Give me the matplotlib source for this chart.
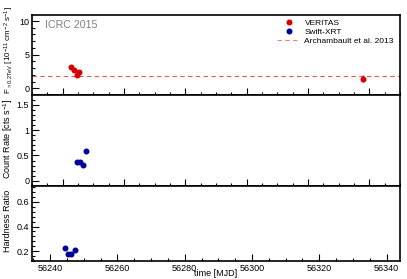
import numpy as np
import matplotlib
matplotlib.use("Agg")
import matplotlib.pyplot as plt
from matplotlib.ticker import MultipleLocator, FuncFormatter
from matplotlib.lines import Line2D

plt.rcParams['font.family'] = ['Liberation Sans', 'DejaVu Sans']
plt.rcParams['mathtext.default'] = 'regular'

# VERITAS flux (1e-11 cm^-2 s^-1)
ver_mjd = [56242.6, 56243.6, 56244.7, 56245.4, 56337.8]
ver_flux = [3.2, 2.7, 1.95, 2.35, 1.45]
ver_err = [0.15, 0.15, 0.15, 0.15, 0.5]
arch_flux = 1.9   # Archambault et al. 2013

# Swift-XRT count rate
xrt_mjd = [56244.6, 56245.65, 56246.7, 56247.6]
xrt_rate = [0.37, 0.37, 0.31, 0.59]

# Swift-XRT hardness ratio
hr_mjd = [56244.4, 56245.4, 56246.3, 56247.4]
hr_val = [0.225, 0.173, 0.173, 0.21]

red = '#d40000'
blue = '#00009a'
ms = 3.3

fig = plt.figure(figsize=(4.07, 2.79), dpi=100)
L, W = 32/407, 368/407
ax1 = fig.add_axes([L, 1-95/279, W, 80/279])
ax2 = fig.add_axes([L, 1-186/279, W, 91/279])
ax3 = fig.add_axes([L, 1-261/279, W, 75/279])

fmt = FuncFormatter(lambda v, p: '%g' % v)
for ax in (ax1, ax2, ax3):
    ax.tick_params(which='both', direction='in', top=False, right=False,
                   labelsize=6.5, pad=2, width=0.8)
    ax.tick_params(which='major', length=5)
    ax.tick_params(which='minor', length=2.5)
    ax.xaxis.set_major_locator(MultipleLocator(20))
    ax.xaxis.set_minor_locator(MultipleLocator(5))
    ax.yaxis.set_major_formatter(fmt)
    ax.xaxis.set_major_formatter(fmt)
    for s in ax.spines.values():
        s.set_linewidth(1.2)

# top: VERITAS
ax1.axhline(arch_flux, color='#e05858', ls=(0, (4, 3)), lw=0.8)
ax1.errorbar(ver_mjd, ver_flux, yerr=ver_err, fmt='o', color=red,
             ms=ms, elinewidth=1, capsize=0)
ax1.set_xlim(56230, 56350)
ax1.set_ylim(-1, 10.9)
ax1.yaxis.set_major_locator(MultipleLocator(5))
ax1.yaxis.set_minor_locator(MultipleLocator(1))
ax1.tick_params(labelbottom=False)
ax1.text(45/407, 1-25/279, 'ICRC 2015', transform=fig.transFigure,
         color='#808080', fontsize=7.7, va='center', ha='left')

# middle: count rate
ax2.plot(xrt_mjd, xrt_rate, 'o', color=blue, ms=ms)
ax2.set_xlim(56230, 56350)
ax2.set_ylim(-0.1, 1.69)
ax2.yaxis.set_major_locator(MultipleLocator(0.5))
ax2.yaxis.set_minor_locator(MultipleLocator(0.1))
ax2.tick_params(labelbottom=False)

# bottom: hardness ratio
ax3.plot(hr_mjd, hr_val, 'o', color=blue, ms=ms)
ax3.set_xlim(56234.6, 56344)
ax3.set_ylim(0.12, 0.73)
ax3.yaxis.set_major_locator(MultipleLocator(0.2))
ax3.yaxis.set_minor_locator(MultipleLocator(0.04))

# axis labels
fig.text(9/407, 1-50/279, r'F$_{>0.2TeV}$ [10$^{-11}$ cm$^{-2}$ s$^{-1}$]',
         rotation=90, ha='center', va='center', fontsize=5.8)
fig.text(8/407, 1-139/279, r'Count Rate [cts s$^{-1}$]',
         rotation=90, ha='center', va='center', fontsize=6.5)
fig.text(8/407, 1-221/279, 'Hardness Ratio',
         rotation=90, ha='center', va='center', fontsize=6.5)
fig.text(216/407, 1-273/279, 'time [MJD]', ha='center', va='center', fontsize=6.5)

# legend
handles = [Line2D([], [], ls='none', marker='o', color=red, ms=ms),
           Line2D([], [], ls='none', marker='o', color=blue, ms=ms),
           Line2D([], [], color='#f08080', ls=(0, (4, 3)), lw=0.8)]
labels = ['VERITAS', 'Swift-XRT', 'Archambault et al. 2013']
ax1.legend(handles, labels, loc='upper left', frameon=False, fontsize=6,
           bbox_to_anchor=(277/407, 1-19/279), bbox_transform=fig.transFigure,
           borderpad=0, borderaxespad=0, handlelength=2.8, handletextpad=0.5,
           labelspacing=0.15)

fig.savefig('out.png', dpi=100)
